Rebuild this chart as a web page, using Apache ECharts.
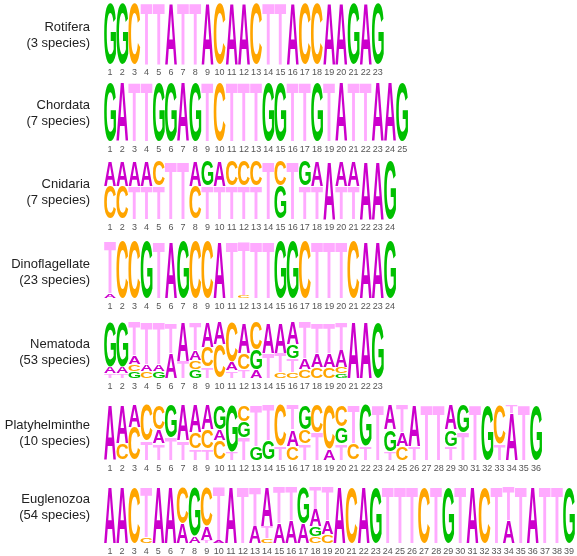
<!DOCTYPE html>
<html lang="en">
<head>
<meta charset="UTF-8">
<title>Sequence logos</title>
<script src="https://cdn.jsdelivr.net/npm/echarts@6/dist/echarts.min.js"></script>
</head>
<body style="margin:0">
<div id="main" style="width:577px;height:556px;"></div>
<script>
// one string per position, letters listed top to bottom, number = percent (none = 100)
var rotifera = ['G','G','C','T','T','A','T','T','A','C','A','A','C','T','T','A','C','C','A','A','G','A','G'];
var chordata = ['G','A','T','T','G','G','A','G','T','C','T','T','T','G','G','T','T','G','T','A','T','T','A','A','G'];
var cnidaria = ['A43C57','A43C57','A43T57','A43T57','C43T57','T','T','A43C57','G43T57','A43T57','C43T57','C43T57',
    'C43T57','T','C43G57','T','G43T57','A43T57','A','A43T57','A43T57','A','A','G'];
var dinoflagellate = ['T92A8','C','C','G','T','A','G','C','C','A','T','T95C5','T','T','G','G','C','T','T','T','C','A','A','G'];
var nematoda = ['G80A12T8','G80A12T8','T60A15C13G12','T75A13C12','T75A13G12','T55A45','A70T30','T50A18C16G16',
    'A45C35T20','A40C60','C72A15T13','A55C30T15','C50G35A15','A55T45','A55T35C10','A40G25T25C10',
    'T65A20C15','T55A25C20','T55A25C20','T50A30C12G8','A','A','G'];
var platyhelminthe = ['A','A70C30','A40C60','C65T35','C45A25T30','G60T40','A65T35','A50C30T20','A45C35T20','G45A20C35',
    'G85T15','C30G30T40','T75G25','T65G35','C75T25','T45A30C25','G45C25T30','C50T50','C80A20','C40G30T30',
    'T70C30','G75T25','T','A45G40T15','T50A25C25','A75T25','T','T','A45G30T25','G50T50','T','G','C70T30',
    'T15A85','T','G'];
var euglenozoa = ['A','A','C','T90C10','A','A','C65A35','G88A12','C70A25T5','T95A5','A','T','T70A30','A70T22C8',
    'T65A35','T60A40','G65A35','T40A30G18C12','T60A25C15','A','C','A','G','T','T','T','C','T','G','T','A','C',
    'T','T60A40','T','A','T','T','G'];

var taxa = ['Rotifera','Chordata','Cnidaria','Dinoflagellate','Nematoda','Platyhelminthe','Euglenozoa'];
var speciesCount = [3, 7, 7, 23, 53, 10, 54];
var logos = [rotifera, chordata, cnidaria, dinoflagellate, nematoda, platyhelminthe, euglenozoa];

var colors = {A: '#CC00CC', C: '#FFA500', G: '#00C000', T: '#FFAAFF'};

// panel placement
var tops = [3, 82, 161, 241, 322, 405, 487];
var heights = [61, 59, 58, 57, 56, 55, 56];
var labelY = [35, 113, 192, 272, 352, 433, 507];
var colW = 12.17;

var FONT = 'bold 100px "Liberation Sans"';
var ctx = document.createElement('canvas').getContext('2d');
ctx.font = FONT;
ctx.textAlign = 'center';
ctx.textBaseline = 'middle';
var glyph = {};
'ACGT'.split('').forEach(function (ch) {
    var m = ctx.measureText(ch);
    glyph[ch] = {l: m.actualBoundingBoxLeft, r: m.actualBoundingBoxRight,
                 a: m.actualBoundingBoxAscent, d: m.actualBoundingBoxDescent};
});

function parseCol(s) {
    var parts = [], re = /([ACGT])(\d*)/g, m, tot = 0;
    while ((m = re.exec(s))) {
        var v = m[2] ? +m[2] : 100;
        parts.push([m[1], v]);
        tot += v;
    }
    var y = 1;
    return parts.map(function (p) {
        var h = p[1] / tot;
        var r = [p[0], y - h, y];
        y -= h;
        return r;
    });
}

function makeRender(chars) {
    return function (params, api) {
        var ch = chars[params.dataIndex];
        var k = api.value(0);
        var p0 = api.coord([k, api.value(1)]);
        var p1 = api.coord([k, api.value(2)]);
        var bw = api.size([1, 0])[0];
        var w = bw * 0.97;
        var h = Math.max(p0[1] - p1[1] - 0.6, 0.4);
        var g = glyph[ch];
        var sx = w / (g.l + g.r), sy = h / (g.a + g.d);
        var cx = p0[0], cy = (p0[1] + p1[1]) / 2;
        return {
            type: 'text',
            x: cx - sx * (g.r - g.l) / 2,
            y: cy - sy * (g.d - g.a) / 2,
            scaleX: sx,
            scaleY: sy,
            silent: true,
            style: {text: ch, font: FONT, fill: colors[ch], align: 'center', verticalAlign: 'middle'}
        };
    };
}

var grids = [], xAxes = [], yAxes = [], series = [], graphics = [];
logos.forEach(function (cols, i) {
    grids.push({left: 104, top: tops[i], height: heights[i], width: cols.length * colW});
    xAxes.push({
        type: 'category', gridIndex: i,
        data: cols.map(function (c, k) { return String(k + 1); }),
        axisLine: {show: false}, axisTick: {show: false}, splitLine: {show: false},
        axisLabel: {interval: 0, fontSize: 9, color: '#555', margin: 4, fontFamily: 'Liberation Sans'}
    });
    yAxes.push({type: 'value', gridIndex: i, min: 0, max: 1, show: false});
    var data = [], chars = [];
    cols.forEach(function (c, k) {
        parseCol(c).forEach(function (p) {
            data.push([k, p[1], p[2]]);
            chars.push(p[0]);
        });
    });
    series.push({
        type: 'custom', xAxisIndex: i, yAxisIndex: i, data: data,
        encode: {x: 0, y: [1, 2]}, renderItem: makeRender(chars), silent: true
    });
    graphics.push({
        type: 'text', x: 90, y: labelY[i], silent: true,
        style: {
            text: taxa[i] + '\n(' + speciesCount[i] + ' species)',
            font: '13px "Liberation Sans"', fill: '#222', lineHeight: 16,
            align: 'right', verticalAlign: 'middle'
        }
    });
});

var myChart = echarts.init(document.getElementById('main'));
myChart.setOption({
    animation: false,
    grid: grids,
    xAxis: xAxes,
    yAxis: yAxes,
    series: series,
    graphic: graphics
});
</script>
</body>
</html>
